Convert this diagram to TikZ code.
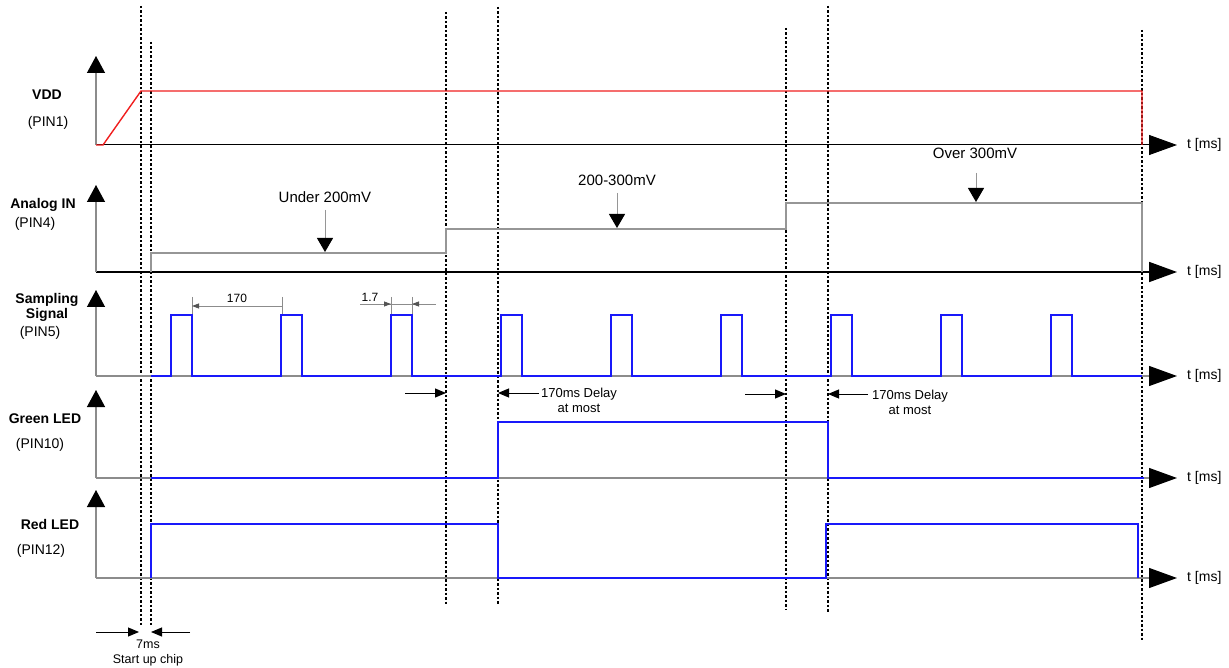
\documentclass[tikz,border=0pt]{standalone}
\usepackage{fontspec}
\setmainfont{Liberation Sans}
\usetikzlibrary{arrows.meta}
\definecolor{sig}{RGB}{25,25,250}
\definecolor{vddc}{RGB}{240,30,30}
\definecolor{ax}{RGB}{140,140,140}
\definecolor{ana}{RGB}{150,150,150}
\begin{document}
\begin{tikzpicture}[x=1pt,y=-1pt,
 lab/.style={font=\fontsize{14}{16}\selectfont\bfseries, inner sep=0, align=center},
 pin/.style={font=\fontsize{14}{16}\selectfont, inner sep=0},
 note/.style={font=\fontsize{13}{15}\selectfont, inner sep=0, align=center},
 bignote/.style={font=\fontsize{15}{17}\selectfont, inner sep=0},
 smalltxt/.style={font=\fontsize{12}{14}\selectfont, inner sep=0},
 vax/.style={draw=ax, line width=1.3pt, -{Triangle[length=17pt,width=18pt,color=black]}},
 hax/.style={line width=1pt, -{Triangle[length=28pt,width=20pt,color=black]}},
 guide/.style={black, line width=1.3pt, dash pattern=on 2.5pt off 2pt},
 wave/.style={sig, line width=1.6pt},
 tl/.style={font=\fontsize{14}{16}\selectfont, anchor=west, inner sep=0},
 ptr/.style={black, line width=1pt, -{Triangle[length=11pt,width=9pt]}},
 vptr/.style={draw=ana, line width=1pt, -{Triangle[length=14pt,width=16pt,color=black]}},
 dimline/.style={draw=ax, line width=0.8pt},
 dimtip/.style={draw=ax, line width=0.8pt, -{Triangle[length=7pt,width=5pt,color=ax!60!black]}},
]
\useasboundingbox (0,0) rectangle (1229,668);

% ---------- guide lines ----------
\coordinate (g1a) at (141,6);   \coordinate (g1b) at (141,625);
\coordinate (g2a) at (151,42);  \coordinate (g2b) at (151,625);
\coordinate (g3a) at (446,12);  \coordinate (g3b) at (446,605);
\coordinate (g4a) at (498,7);   \coordinate (g4b) at (498,605);
\coordinate (g5a) at (786,28);  \coordinate (g5b) at (786,610);
\coordinate (g6a) at (828,6);   \coordinate (g6b) at (828,612);
\coordinate (g7a) at (1142,30); \coordinate (g7b) at (1142,640);
\foreach \i in {1,...,7} {\draw[guide] (g\i a) -- (g\i b);}

% ---------- labels ----------
\node[lab] (vddL) at (47,95) {VDD};
\node[pin] (vddP) at (48,123) {(PIN1)};
\node[lab] (anaL) at (43,205) {Analog IN};
\node[pin] (anaP) at (35,224) {(PIN4)};
\node[lab] (smpL) at (47,307) {Sampling\\[-1pt]Signal};
\node[pin] (smpP) at (40,333) {(PIN5)};
\node[lab] (grnL) at (45,419) {Green LED};
\node[pin] (grnP) at (40,445) {(PIN10)};
\node[lab] (redL) at (50,524) {Red LED};
\node[pin] (redP) at (41,551) {(PIN12)};

% ---------- axes ----------
\foreach \n/\yo/\yt/\hc/\hw in {1/145/56/black/1,2/272/185/black/1.8,3/376/290/ax/1.2,4/478/390/ax/1.2,5/578/490/ax/1.2} {
  \coordinate (o\n) at (96,\yo);
  \coordinate (top\n) at (96,\yt);
  \coordinate (end\n) at (1177,\yo);
  \draw[hax, draw=\hc, line width=\hw pt] (o\n) -- (end\n);
  \draw[vax] (o\n) -- (top\n);
  \node[tl] (t\n) at (1187,\yo) {t [ms]};
}

% ---------- VDD ----------
\draw[vddc, line width=1.4pt] (96,145) -- (103,145) -- (141,91) -- (1142,91) -- (1142,145);

% ---------- Analog IN ----------
\draw[ana, line width=1.4pt] (151,272) -- (151,253) -- (446,253) -- (446,229) -- (786,229) -- (786,203) -- (1142,203) -- (1142,272);
\node[bignote] (u200) at (325,197) {Under 200mV};
\coordinate (u200p) at (325,252);
\draw[vptr] (325,210) -- (u200p);
\node[bignote] (m200) at (617,180) {200-300mV};
\coordinate (m200p) at (617,228);
\draw[vptr] (617,193) -- (m200p);
\node[bignote] (o300) at (975,153) {Over 300mV};
\coordinate (o300p) at (976,202);
\draw[vptr] (976,173) -- (o300p);

% ---------- Sampling ----------
\draw[wave] (151,376)
  \foreach \x in {171,281,391,501,611,721,831,941,1051} { -- (\x,376) -- (\x,315) -- ({\x+21},315) -- ({\x+21},376) }
  -- (1142,376);
% dimension 170
\draw[dimline] (192,297) -- (192,314);
\draw[dimline] (282,297) -- (282,314);
\coordinate (d170a) at (192,306); \coordinate (d170b) at (282,306);
\draw[dimtip, {Triangle[length=7pt,width=5pt,color=ax!60!black]}-] (d170a) -- (d170b);
\node[smalltxt] (n170) at (237,298) {170};
% dimension 1.7
\draw[dimline] (391,297) -- (391,314);
\draw[dimline] (412,297) -- (412,314);
\draw[dimline] (360,304) -- (436,304);
\coordinate (d17a) at (391,304); \coordinate (d17b) at (412,304);
\draw[dimtip] (380,304) -- (d17a);
\draw[dimtip] (424,304) -- (d17b);
\node[smalltxt] (n17) at (370,297) {1.7};

% ---------- delay notes ----------
\coordinate (da1) at (405,393); \coordinate (da2) at (446,393);
\draw[ptr] (da1) -- (da2);
\coordinate (db1) at (539,393); \coordinate (db2) at (498,393);
\draw[ptr] (db1) -- (db2);
\node[note] (dl1) at (579,400) {170ms Delay\\at most};
\coordinate (dc1) at (745,394); \coordinate (dc2) at (786,394);
\draw[ptr] (dc1) -- (dc2);
\coordinate (dd1) at (868,394); \coordinate (dd2) at (828,394);
\draw[ptr] (dd1) -- (dd2);
\node[note] (dl2) at (910,402) {170ms Delay\\at most};

% ---------- Green LED ----------
\draw[wave] (151,478) -- (498,478) -- (498,422) -- (828,422) -- (828,478) -- (1144,478);

% ---------- Red LED ----------
\draw[wave] (151,578) -- (151,524) -- (498,524) -- (498,578) -- (826,578) -- (826,524) -- (1138,524) -- (1138,578);

% ---------- start up ----------
\coordinate (s1) at (96,632); \coordinate (s2) at (139,632);
\draw[ptr] (s1) -- (s2);
\coordinate (s3) at (190,632); \coordinate (s4) at (151,632);
\draw[ptr] (s3) -- (s4);
\node[note, font=\fontsize{12.5}{14.5}\selectfont] (st) at (148,653) {7ms\\Start up chip};
\end{tikzpicture}
\end{document}
